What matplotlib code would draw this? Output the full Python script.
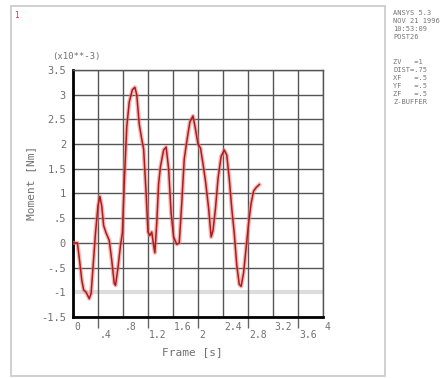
import matplotlib
matplotlib.use("Agg")
import matplotlib.pyplot as plt
import matplotlib.transforms as mtrans
from matplotlib.patches import Rectangle

# ---- data ----
time_s = [0.00, 0.07, 0.10, 0.14, 0.17, 0.21, 0.26, 0.29, 0.32, 0.36, 0.40, 0.43,
          0.46, 0.49, 0.53, 0.58, 0.62, 0.66, 0.68, 0.72, 0.76, 0.79, 0.82, 0.86,
          0.90, 0.95, 0.99, 1.02, 1.06, 1.10, 1.13, 1.17, 1.20, 1.23, 1.26, 1.29,
          1.31, 1.34, 1.37, 1.40, 1.45, 1.49, 1.53, 1.57, 1.61, 1.66, 1.70, 1.74,
          1.78, 1.82, 1.87, 1.92, 1.96, 2.00, 2.04, 2.08, 2.12, 2.17, 2.21, 2.24,
          2.28, 2.32, 2.37, 2.42, 2.46, 2.50, 2.54, 2.58, 2.62, 2.66, 2.69, 2.73,
          2.77, 2.81, 2.85, 2.89, 2.93, 2.98]
moment = [0.00, 0.00, -0.30, -0.75, -0.95, -1.00, -1.13, -1.02, -0.50, 0.20, 0.75, 0.94,
          0.75, 0.35, 0.20, 0.05, -0.35, -0.82, -0.86, -0.50, -0.05, 0.20, 1.20, 2.35,
          2.85, 3.10, 3.15, 3.00, 2.40, 2.10, 1.90, 1.00, 0.22, 0.15, 0.22, -0.05,
          -0.20, 0.40, 1.20, 1.55, 1.88, 1.94, 1.50, 0.60, 0.12, -0.03, 0.00, 0.80,
          1.70, 2.05, 2.45, 2.57, 2.30, 2.00, 1.92, 1.60, 1.25, 0.70, 0.12, 0.25,
          0.70, 1.30, 1.75, 1.88, 1.78, 1.30, 0.70, 0.20, -0.45, -0.84, -0.88, -0.60,
          -0.10, 0.40, 0.80, 1.05, 1.12, 1.18]

x_ticks = [0.0, 0.4, 0.8, 1.2, 1.6, 2.0, 2.4, 2.8, 3.2, 3.6, 4.0]
x_tick_labels = ["0", ".4", ".8", "1.2", "1.6", "2", "2.4", "2.8", "3.2", "3.6", "4"]
y_ticks = [-1.5, -1.0, -0.5, 0.0, 0.5, 1.0, 1.5, 2.0, 2.5, 3.0, 3.5]
y_tick_labels = ["-1.5", "-1", "-.5", "0", ".5", "1", "1.5", "2", "2.5", "3", "3.5"]

info_top = ["ANSYS 5.3", "NOV 21 1996", "10:53:09", "POST26"]
info_bottom = ["ZV   =1", "DIST=.75", "XF   =.5", "YF   =.5", "ZF   =.5", "Z-BUFFER"]

W, H = 448, 378
mono = "DejaVu Sans Mono"
txt_col = "#707070"
grid_col = "#555555"

fig = plt.figure(figsize=(W / 100, H / 100), dpi=100)
fig.patch.set_facecolor("white")

# outer frame
fig.add_artist(Rectangle((11 / W, 1 - 376 / H), (385 - 11) / W, (376 - 6) / H,
                         transform=fig.transFigure, fill=False,
                         edgecolor="#c8c8c8", lw=1.2))

ax = fig.add_axes([73 / W, 1 - 317 / H, 250 / W, 247 / H])
ax.set_xlim(0, 4.0)
ax.set_ylim(-1.5, 3.5)

# grid
for yv in y_ticks:
    if yv == -1.0:
        ax.axhline(yv, color="#dcdcdc", lw=3.0, zorder=0.8)
    else:
        ax.axhline(yv, color=grid_col, lw=1.0, zorder=1)
for xv in x_ticks:
    ax.axvline(xv, color=grid_col, lw=1.0, zorder=1)

# curve (glow + core)
ax.plot(time_s, moment, color="#f27a7a", lw=3.0, alpha=0.55, zorder=3,
        solid_joinstyle="round")
ax.plot(time_s, moment, color="#a81e1e", lw=1.1, zorder=4, solid_joinstyle="round")

for s in ["left", "bottom"]:
    ax.spines[s].set_color("black")
    ax.spines[s].set_linewidth(2.0)
for s in ["top", "right"]:
    ax.spines[s].set_color(grid_col)
    ax.spines[s].set_linewidth(1.0)

ax.set_yticks(y_ticks)
ax.set_yticklabels(y_tick_labels, fontfamily=mono, fontsize=7.5, color=txt_col)
ax.tick_params(axis="y", length=0, pad=5)

# x ticks: only short marks under the lower-row labels
ax.set_xticks(x_ticks[1::2])
ax.set_xticklabels([])
ax.tick_params(axis="x", length=8, width=1, color="#666666", direction="out")

# staggered x tick labels (left-aligned at the tick)
tr = mtrans.blended_transform_factory(ax.transData, fig.transFigure)
for i, (xv, lab) in enumerate(zip(x_ticks, x_tick_labels)):
    ypix = 327 if i % 2 == 0 else 335
    ax.text(xv + 0.02, 1 - ypix / H, lab, transform=tr, ha="left", va="center",
            fontfamily=mono, fontsize=7, color=txt_col, clip_on=False)

fig.text(52 / W, 1 - 57 / H, "(x10**-3)", fontfamily=mono, fontsize=6.5,
         color=txt_col, ha="left", va="center")
fig.text(31 / W, 1 - 183 / H, "Moment [Nm]", rotation=90, fontfamily=mono,
         fontsize=8, color=txt_col, ha="center", va="center")
fig.text(192 / W, 1 - 352 / H, "Frame [s]", fontfamily=mono, fontsize=8,
         color=txt_col, ha="center", va="center")
fig.text(16 / W, 1 - 15 / H, "1", fontfamily=mono, fontsize=5.5, color="#e03030",
         ha="center", va="center")

for k, line in enumerate(info_top):
    fig.text(393 / W, 1 - (13 + 8 * k) / H, line, fontfamily=mono, fontsize=5,
             color="#777777", ha="left", va="center")
for k, line in enumerate(info_bottom):
    fig.text(393 / W, 1 - (62 + 8 * k) / H, line, fontfamily=mono, fontsize=5,
             color="#777777", ha="left", va="center")

fig.savefig("out.png", dpi=100, facecolor="white")
